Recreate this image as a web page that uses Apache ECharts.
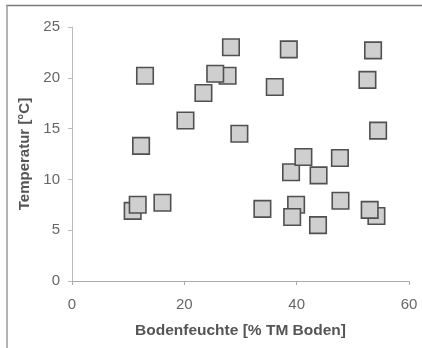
<!DOCTYPE html>
<html>
<head>
<meta charset="utf-8">
<script src="https://cdn.jsdelivr.net/npm/echarts@6/dist/echarts.min.js"></script>
<style>html,body{margin:0;padding:0;background:#fff;}#c{width:422px;height:348px;}</style>
</head>
<body>
<div id="c"></div>
<script>
const soilMoisture = [10.8, 11.7, 16.1, 12.3, 13.0, 20.2, 23.4, 27.7, 25.5, 28.3, 29.8, 33.9, 36.1, 38.6, 39.0, 39.9, 39.2, 41.2, 43.9, 43.8, 47.7, 47.8, 54.2, 53.0, 52.6, 53.6, 54.5];
const temperature  = [6.9, 7.5, 7.7, 13.3, 20.2, 15.8, 18.5, 20.2, 20.4, 23.0, 14.5, 7.1, 19.1, 22.8, 10.7, 7.5, 6.3, 12.2, 10.4, 5.5, 12.1, 7.9, 6.4, 7.0, 19.8, 22.7, 14.8];
const xTicks = [0, 20, 40, 60];
const yTicks = [0, 5, 10, 15, 20, 25];

const points = soilMoisture.map((x, i) => [x, temperature[i]]);
const chart = echarts.init(document.getElementById('c'), null, {renderer: 'canvas'});
const labelStyle = {color: '#666', fontFamily: 'Liberation Sans, Arial', fontSize: 15};
chart.setOption({
  animation: false,
  backgroundColor: '#fff',
  grid: {left: 72, right: 13, top: 27, bottom: 67},
  xAxis: {
    type: 'value', min: xTicks[0], max: xTicks[xTicks.length - 1], interval: 20,
    name: 'Bodenfeuchte [% TM Boden]', nameLocation: 'middle', nameGap: 42,
    nameTextStyle: {color: '#555', fontWeight: 'bold', fontSize: 15.5, fontFamily: 'Liberation Sans, Arial'},
    axisLine: {show: true, lineStyle: {color: '#aaa', width: 1}},
    axisTick: {show: true, length: 4, lineStyle: {color: '#aaa'}},
    axisLabel: Object.assign({margin: 16}, labelStyle),
    splitLine: {show: false}
  },
  yAxis: {
    type: 'value', min: yTicks[0], max: yTicks[yTicks.length - 1], interval: 5,
    name: 'Temperatur [°C]', nameLocation: 'middle', nameGap: 36,
    nameTextStyle: {color: '#555', fontWeight: 'bold', fontSize: 15, fontFamily: 'Liberation Sans, Arial'},
    axisLine: {show: true, lineStyle: {color: '#bbb', width: 1}},
    axisTick: {show: true, length: 4, lineStyle: {color: '#bbb'}},
    axisLabel: Object.assign({margin: 12}, labelStyle),
    splitLine: {show: false}
  },
  series: [{
    type: 'scatter',
    symbol: 'rect',
    symbolSize: 16.5,
    data: points,
    itemStyle: {color: '#cfcfcf', borderColor: '#505050', borderWidth: 1.6, opacity: 1}
  }],
  graphic: [
    {type: 'line', shape: {x1: 6, y1: 5.5, x2: 422, y2: 5.5}, style: {stroke: '#777', lineWidth: 1.5}},
    {type: 'line', shape: {x1: 7, y1: 5, x2: 7, y2: 348}, style: {stroke: '#999', lineWidth: 1.5}}
  ]
});
</script>
</body>
</html>
